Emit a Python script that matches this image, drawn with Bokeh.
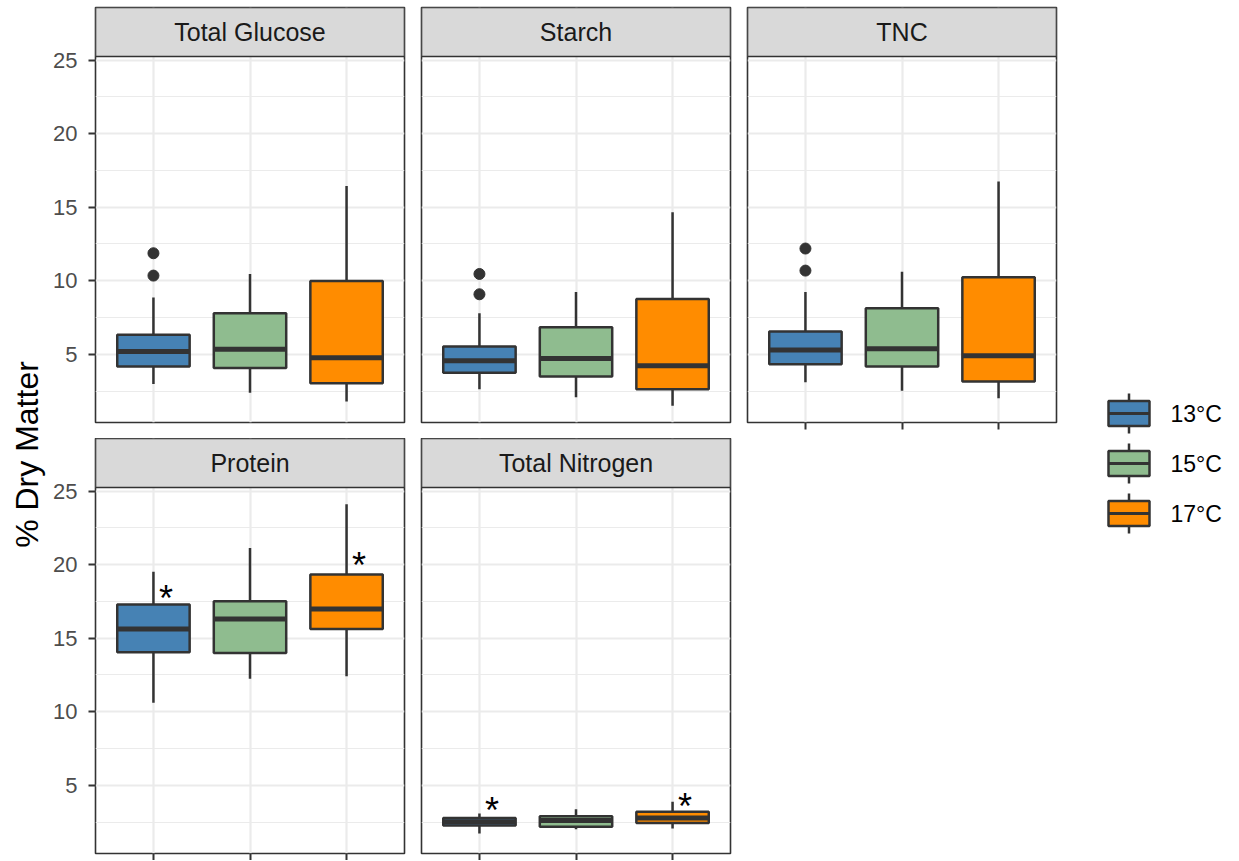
import math
from bokeh.plotting import figure
from bokeh.models import Range1d, FixedTicker, LinearAxis, Grid, ColumnDataSource
from bokeh.layouts import row, column
from bokeh.embed import file_html
from bokeh.resources import INLINE
from bokeh.core.properties import value

# ---------------- data ----------------
temps = ["13°C", "15°C", "17°C"]
fill_colors = ["#4682B4", "#8FBC8F", "#FF8C00"]
panels = ["Total Glucose", "Starch", "TNC", "Protein", "Total Nitrogen"]

y_ticks = [5, 10, 15, 20, 25]
y_minor = [2.5, 7.5, 12.5, 17.5, 22.5]

glucose_low = [2.98, 2.39, 1.78]
glucose_q1 = [4.16, 4.07, 3.03]
glucose_med = [5.18, 5.34, 4.77]
glucose_q3 = [6.32, 7.79, 9.99]
glucose_high = [8.86, 10.46, 16.45]
glucose_out_temp = ["13°C", "13°C"]
glucose_out_val = [10.35, 11.87]

starch_low = [2.62, 2.07, 1.49]
starch_q1 = [3.75, 3.48, 2.62]
starch_med = [4.55, 4.71, 4.21]
starch_q3 = [5.52, 6.84, 8.76]
starch_high = [7.79, 9.24, 14.66]
starch_out_temp = ["13°C", "13°C"]
starch_out_val = [9.08, 10.46]

tnc_low = [3.10, 2.51, 2.01]
tnc_q1 = [4.32, 4.16, 3.14]
tnc_med = [5.29, 5.38, 4.89]
tnc_q3 = [6.54, 8.13, 10.24]
tnc_high = [9.24, 10.62, 16.75]
tnc_out_temp = ["13°C", "13°C"]
tnc_out_val = [10.69, 12.19]

protein_low = [10.61, 12.24, 12.42]
protein_q1 = [14.05, 14.00, 15.63]
protein_med = [15.63, 16.31, 16.99]
protein_q3 = [17.29, 17.51, 19.34]
protein_high = [19.52, 21.13, 24.12]
protein_out_temp = []
protein_out_val = []

nitrogen_low = [1.72, 2.00, 2.06]
nitrogen_q1 = [2.26, 2.17, 2.44]
nitrogen_med = [2.52, 2.60, 2.78]
nitrogen_q3 = [2.78, 2.90, 3.19]
nitrogen_high = [3.08, 3.37, 3.87]
nitrogen_out_temp = []
nitrogen_out_val = []

# significance marks
sig_panel = ["Protein", "Protein", "Total Nitrogen", "Total Nitrogen"]
sig_temp = ["13°C", "17°C", "13°C", "17°C"]
sig_y = [18.19, 20.43, 3.76, 4.03]

stats = {
    "Total Glucose": (glucose_low, glucose_q1, glucose_med, glucose_q3, glucose_high, glucose_out_temp, glucose_out_val),
    "Starch": (starch_low, starch_q1, starch_med, starch_q3, starch_high, starch_out_temp, starch_out_val),
    "TNC": (tnc_low, tnc_q1, tnc_med, tnc_q3, tnc_high, tnc_out_temp, tnc_out_val),
    "Protein": (protein_low, protein_q1, protein_med, protein_q3, protein_high, protein_out_temp, protein_out_val),
    "Total Nitrogen": (nitrogen_low, nitrogen_q1, nitrogen_med, nitrogen_q3, nitrogen_high, nitrogen_out_temp, nitrogen_out_val),
}

# ---------------- styling / layout ----------------
DARK = "#333333"
GRID = "#EBEBEB"
FONT = "Liberation Sans"
FW = 309          # panel width (px)
PH = 366          # panel height (px)
SH = 49           # strip height (px)
TOP, GAP, BOT = 7, 16, 7
TITLE_W = 47
LEFT_B = 48
BOX_W = 0.75
LW = 2.5
MED_W = 5

xpos = {t: i + 1 for i, t in enumerate(temps)}
xs = [xpos[t] for t in temps]
x_lo, x_hi = 0.4, len(temps) + 0.6

all_vals = []
for k_, v in stats.items():
    all_vals += v[0] + v[4] + v[6]
ymin, ymax = min(all_vals), max(all_vals)
span = ymax - ymin
y0, y1 = ymin - 0.05 * span, ymax + 0.05 * span
k = PH / (y1 - y0)                  # px per unit
y_top = y1 + SH / k                 # strip area on top of the panel
y_range = Range1d(y0, y_top)
TOTAL_H = TOP + (SH + PH) * 2 + GAP + BOT


def make_panel(name, left_axis, bottom_axis, top_border, bottom_border):
    p = figure(frame_width=FW, frame_height=SH + PH,
               x_range=Range1d(x_lo, x_hi), y_range=y_range,
               x_axis_location=None, y_axis_location=None,
               min_border_left=LEFT_B if left_axis else 9, min_border_right=8,
               min_border_top=top_border, min_border_bottom=bottom_border,
               toolbar_location=None, output_backend="svg")
    p.center = []
    p.background_fill_color = "white"
    p.border_fill_color = "white"
    p.outline_line_color = DARK
    p.outline_line_width = 1.6

    p.add_layout(Grid(dimension=1, ticker=FixedTicker(ticks=y_ticks, minor_ticks=y_minor),
                      grid_line_color=GRID, grid_line_width=2.2,
                      minor_grid_line_color=GRID, minor_grid_line_width=1.1))
    p.add_layout(Grid(dimension=0, ticker=FixedTicker(ticks=xs),
                      grid_line_color=GRID, grid_line_width=2.2))

    low, q1, med, q3, high, out_t, out_v = stats[name]
    src = ColumnDataSource(dict(
        x=xs, low=low, q1=q1, med=med, q3=q3, high=high, color=fill_colors,
        left=[x - BOX_W / 2 for x in xs], right=[x + BOX_W / 2 for x in xs]))
    p.segment(x0="x", y0="q3", x1="x", y1="high", source=src, line_color=DARK, line_width=LW)
    p.segment(x0="x", y0="low", x1="x", y1="q1", source=src, line_color=DARK, line_width=LW)
    p.vbar(x="x", width=BOX_W, bottom="q1", top="q3", source=src,
           fill_color="color", line_color=DARK, line_width=LW)
    p.segment(x0="left", y0="med", x1="right", y1="med", source=src,
              line_color=DARK, line_width=MED_W)
    if out_v:
        p.scatter(x=[xpos[t] for t in out_t], y=out_v, size=11,
                  fill_color=DARK, line_color=DARK, line_width=1)

    sx = [xpos[t] + 0.13 for pn, t in zip(sig_panel, sig_temp) if pn == name]
    sy = [y for pn, y in zip(sig_panel, sig_y) if pn == name]
    if sx:
        p.text(x=sx, y=sy, text=["*"] * len(sx), text_font=value(FONT),
               text_font_size="36px", text_align="center", text_baseline="middle",
               y_offset=7, text_color="black")

    # facet strip on top of the panel
    p.quad(left=[x_lo], right=[x_hi], bottom=[y1], top=[y_top],
           fill_color="#D9D9D9", line_color=DARK, line_width=1.6)
    p.text(x=[(x_lo + x_hi) / 2], y=[(y1 + y_top) / 2], text=[name], text_font=value(FONT),
           text_font_size="25px", text_align="center", text_baseline="middle",
           text_color="#1A1A1A")

    if left_axis:
        ax = LinearAxis(ticker=FixedTicker(ticks=y_ticks), axis_line_color=None,
                        major_tick_in=0, major_tick_out=7, major_tick_line_color=DARK,
                        major_tick_line_width=2, minor_tick_line_color=None,
                        major_label_text_font=FONT, major_label_text_font_size="22px",
                        major_label_text_color="#4D4D4D", major_label_standoff=11)
        p.add_layout(ax, "left")
    if bottom_axis:
        ax = LinearAxis(ticker=FixedTicker(ticks=xs), axis_line_color=None,
                        major_tick_in=0, major_tick_out=7, major_tick_line_color=DARK,
                        major_tick_line_width=2, minor_tick_line_color=None,
                        major_label_overrides={x: "" for x in xs},
                        major_label_text_font_size="1px", major_label_standoff=0)
        p.add_layout(ax, "below")
    return p


row1 = [make_panel(panels[0], True, False, TOP, GAP),
        make_panel(panels[1], False, False, TOP, GAP),
        make_panel(panels[2], False, True, TOP, GAP)]
row2 = [make_panel(panels[3], True, True, 0, BOT),
        make_panel(panels[4], False, True, 0, BOT)]

grid_layout = column(row(*row1), row(*row2))

# y-axis title
t = figure(frame_width=TITLE_W, frame_height=TOTAL_H, x_range=Range1d(0, TITLE_W),
           y_range=Range1d(TOTAL_H, 0), x_axis_location=None, y_axis_location=None,
           min_border=0, toolbar_location=None, output_backend="svg")
t.center = []
t.outline_line_color = None
t.text(x=[26], y=[454], text=["% Dry Matter"], angle=math.pi / 2, text_font=value(FONT),
       text_font_size="32px", text_align="center", text_baseline="middle", text_color="black")

# legend
LEG_W = 170
LEG_X0 = TITLE_W + (LEFT_B + FW + 8) + 2 * (9 + FW + 8)   # page x where legend figure starts
lg = figure(frame_width=LEG_W, frame_height=TOTAL_H, x_range=Range1d(LEG_X0, LEG_X0 + LEG_W),
            y_range=Range1d(TOTAL_H, 0), x_axis_location=None, y_axis_location=None,
            min_border=0, toolbar_location=None, output_backend="svg")
lg.center = []
lg.outline_line_color = None
key_y = [413 + 50 * i for i in range(len(temps))]
key_x = [1128.5] * len(temps)
lsrc = ColumnDataSource(dict(x=key_x, y=key_y, color=fill_colors, label=temps,
                             top=[y - 20 for y in key_y], bot=[y + 20 for y in key_y],
                             l=[x - 20.5 for x in key_x], r=[x + 20.5 for x in key_x],
                             tx=[x + 41.5 for x in key_x]))
lg.segment(x0="x", x1="x", y0="top", y1="bot", source=lsrc, line_color=DARK, line_width=LW)
lg.rect(x="x", y="y", width=41, height=25, source=lsrc, fill_color="color",
        line_color=DARK, line_width=LW)
lg.segment(x0="l", x1="r", y0="y", y1="y", source=lsrc, line_color=DARK, line_width=3)
lg.text(x="tx", y="y", text="label", source=lsrc, text_font=value(FONT), text_font_size="23px",
        text_align="left", text_baseline="middle", text_color="black")

layout = row(t, grid_layout, lg)

open("out.html", "w").write(file_html(layout, INLINE))
